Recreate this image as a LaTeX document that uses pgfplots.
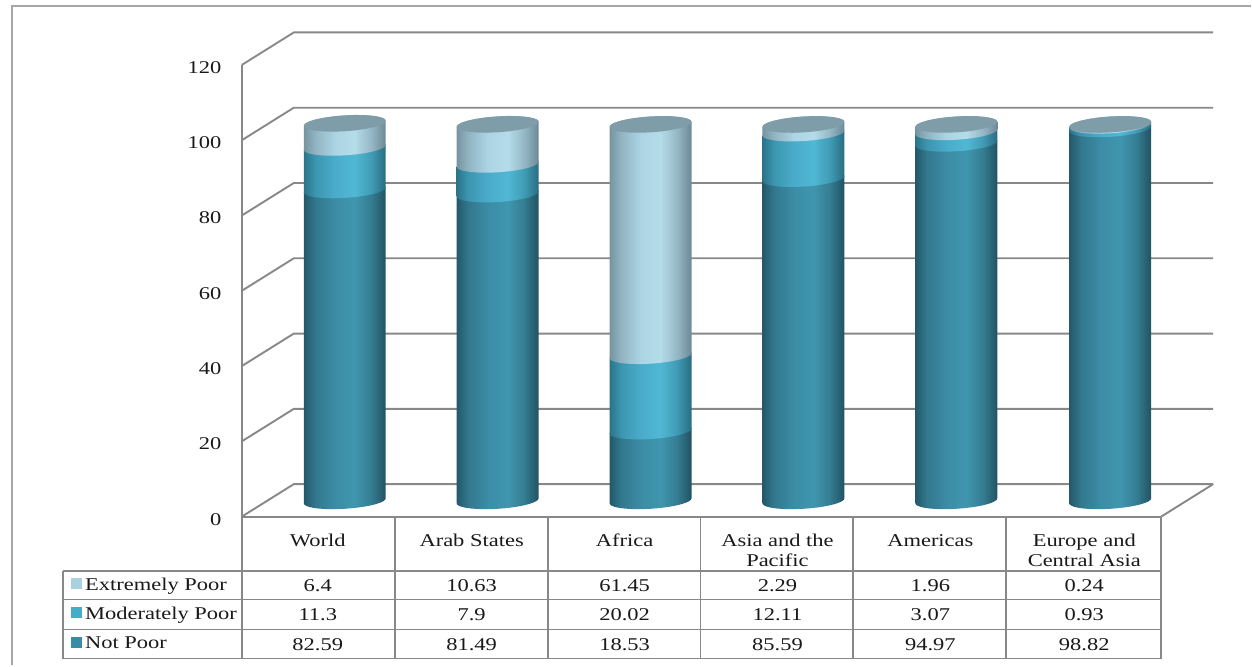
\documentclass[border=0pt]{standalone}
\usepackage{fontspec}
\setmainfont{Liberation Serif}[FakeStretch=1.25]
\usepackage{pgfplots}
\usepackage{pgfplotstable}
\pgfplotsset{compat=1.18}

% Shares per region: one row per cylinder, xc is the cylinder's centre
\pgfplotstableread{
xc   cellx notpoor moderate extreme
345  318   82.59   11.3     6.4
498  472   81.49   7.9      10.63
651  625   18.53   20.02    61.45
804  778   85.59   12.11    2.29
957  931   94.97   3.07     1.96
1111 1085  98.82   0.93     0.24
}\povertytable

\definecolor{gridgray}{HTML}{888888}
\definecolor{capgray}{HTML}{7F9CA9}
\definecolor{swextreme}{HTML}{A9D1E0}
\definecolor{swmoderate}{HTML}{46ADC9}
\definecolor{swnotpoor}{HTML}{3A8CA6}

% Wall tones from rim to rim, for each of the three bands
\definecolor{npA}{RGB}{36,88,106}
\definecolor{npB}{RGB}{50,120,142}
\definecolor{npC}{RGB}{60,140,165}
\definecolor{npD}{RGB}{64,150,175}
\definecolor{npE}{RGB}{52,125,146}
\definecolor{npF}{RGB}{34,82,98}
\definecolor{moA}{RGB}{42,116,138}
\definecolor{moB}{RGB}{60,150,176}
\definecolor{moC}{RGB}{74,172,202}
\definecolor{moD}{RGB}{80,184,212}
\definecolor{moE}{RGB}{64,156,182}
\definecolor{moF}{RGB}{40,108,128}
\definecolor{exA}{RGB}{118,148,160}
\definecolor{exB}{RGB}{146,180,194}
\definecolor{exC}{RGB}{172,212,228}
\definecolor{exD}{RGB}{180,220,234}
\definecolor{exE}{RGB}{150,184,198}
\definecolor{exF}{RGB}{108,136,148}

\tikzset{
  tabletext/.style={font=\fontsize{18}{20}\selectfont, text=black!90, inner sep=0pt},
  gridline/.style={gridgray, line width=1.9pt},
  tableline/.style={gridgray, line width=1.9pt},
}

% Cylinder wall shadings, dark at both rims and lightest right of the centre
\pgfdeclarehorizontalshading{wallnotpoor}{100bp}{
  color(0bp)=(npA); color(25bp)=(npA); color(32bp)=(npB); color(44bp)=(npC);
  color(56bp)=(npD); color(66bp)=(npE); color(75bp)=(npF); color(100bp)=(npF)}
\pgfdeclarehorizontalshading{wallmoderate}{100bp}{
  color(0bp)=(moA); color(25bp)=(moA); color(32bp)=(moB); color(44bp)=(moC);
  color(56bp)=(moD); color(66bp)=(moE); color(75bp)=(moF); color(100bp)=(moF)}
\pgfdeclarehorizontalshading{wallextreme}{100bp}{
  color(0bp)=(exA); color(25bp)=(exA); color(32bp)=(exB); color(44bp)=(exC);
  color(56bp)=(exD); color(66bp)=(exE); color(75bp)=(exF); color(100bp)=(exF)}

% Appends the points of a cylinder's elliptical rim at height #2 to \cylpath
\newcommand{\rimpoints}[3]{%
  \foreach \t in {#3}{%
    \pgfmathsetmacro\rimx{#1+41*cos(\t)}%
    \pgfmathsetmacro\rimy{#2+4.2+0.664*cos(\t)+2.12*sin(\t)}%
    \xdef\cylpath{\cylpath (\rimx,\rimy)}%
  }%
}
% One stacked wall segment: centre, lower value, upper value, shading.
% Its outline runs over the back of the upper rim, so the next band overlaps it.
\newcommand{\cylsegment}[4]{%
  \gdef\cylpath{}%
  \rimpoints{#1}{#2}{180,190,...,360}%
  \rimpoints{#1}{#3}{0,10,...,180}%
  \edef\temp{\noexpand\addplot[draw=none,shading=#4] coordinates {\cylpath};}\temp
}
% The flat lid on top of a cylinder
\newcommand{\cylcap}[2]{%
  \gdef\cylpath{}%
  \rimpoints{#1}{#2}{0,15,...,345}%
  \edef\temp{\noexpand\addplot[draw=none,fill=capgray] coordinates {\cylpath} --cycle;}\temp
}

\newcommand{\celltext}[3]{\node[anchor=base,tabletext] at (axis cs:#1,#2) {#3};}

\begin{document}
\begin{tikzpicture}
\begin{axis}[
  scale only axis, width=920pt, height=452pt,
  xmin=242, xmax=1162, ymin=0, ymax=120,
  clip=false,
  axis x line*=bottom, axis y line*=left,
  axis line style={-, gridgray, line width=1.9pt},
  xtick=\empty,
  ytick={0,20,...,120},
  major tick length=0pt,
  ytick style={draw=none},
  /pgf/number format/assume math mode=true,
  yticklabel style={anchor=east, xshift=-17pt, yshift=-2.5pt, font=\fontsize{18}{20}\selectfont, text=black!90},
]
% Outer frame and picture extent
\path (axis cs:0,-39.55) rectangle (axis cs:1252,137.25);
\addplot[gray!70, line width=1.7pt] coordinates {(12,-39.55) (12,135.6) (1252,135.6)};

% Back wall and side wall gridlines
\pgfplotsinvokeforeach{0,20,...,120}{
  \pgfmathsetmacro\backy{#1+8.63}
  \edef\temp{\noexpand\addplot[gridline] coordinates {(242,#1) (294,\backy) (1214,\backy)};}\temp
}
\addplot[gridline] coordinates {(1214,8.63) (1162,0)};

% Data table rules
\addplot[tableline] coordinates {(242,0) (1162,0)};
\addplot[tableline] coordinates {(63,-14.34) (1162,-14.34)};
\addplot[tableline] coordinates {(63,-22.03) (1162,-22.03)};
\addplot[tableline] coordinates {(63,-30) (1162,-30)};
\addplot[tableline] coordinates {(63,-37.7) (1162,-37.7)};
\addplot[tableline] coordinates {(63,-14.34) (63,-37.7)};
\pgfplotsinvokeforeach{242,395,548,701,854,1007,1162}{
  \addplot[tableline] coordinates {(#1,0) (#1,-37.7)};
}

% Stacked cylinders and the values beneath them
\pgfplotsforeachungrouped \r in {0,...,5}{
  \pgfplotstablegetelem{\r}{xc}\of\povertytable \let\xc\pgfplotsretval
  \pgfplotstablegetelem{\r}{cellx}\of\povertytable \let\cellx\pgfplotsretval
  \pgfplotstablegetelem{\r}{notpoor}\of\povertytable \let\vnp\pgfplotsretval
  \pgfplotstablegetelem{\r}{moderate}\of\povertytable \let\vmo\pgfplotsretval
  \pgfplotstablegetelem{\r}{extreme}\of\povertytable \let\vex\pgfplotsretval
  \pgfmathsetmacro\sumb{\vnp+\vmo}
  \pgfmathsetmacro\sumc{\vnp+\vmo+\vex}
  \cylsegment{\xc}{0}{\vnp}{wallnotpoor}
  \cylsegment{\xc}{\vnp}{\sumb}{wallmoderate}
  \cylsegment{\xc}{\sumb}{\sumc}{wallextreme}
  \cylcap{\xc}{\sumc}
  \edef\temp{\noexpand\celltext{\cellx}{-19.9}{\vex}\noexpand\celltext{\cellx}{-27.6}{\vmo}\noexpand\celltext{\cellx}{-35.44}{\vnp}}\temp
}

% Region names in the table header
\celltext{318}{-7.9}{World}
\celltext{472}{-7.9}{Arab States}
\celltext{625}{-7.9}{Africa}
\celltext{778}{-7.9}{Asia and the}
\celltext{778}{-13.14}{Pacific}
\celltext{931}{-7.9}{Americas}
\celltext{1085}{-7.9}{Europe and}
\celltext{1085}{-13.14}{Central Asia}

% Legend keys and row names
\addplot[draw=none, fill=swextreme] coordinates {(71,-16.2) (82,-16.2) (82,-19.1) (71,-19.1)} --cycle;
\addplot[draw=none, fill=swmoderate] coordinates {(71,-24.1) (82,-24.1) (82,-27) (71,-27)} --cycle;
\addplot[draw=none, fill=swnotpoor] coordinates {(71,-32) (82,-32) (82,-34.9) (71,-34.9)} --cycle;
\node[anchor=base west,tabletext] at (axis cs:85,-19.5) {Extremely Poor};
\node[anchor=base west,tabletext] at (axis cs:85,-27.4) {Moderately Poor};
\node[anchor=base west,tabletext] at (axis cs:85,-35.04) {Not Poor};
\end{axis}
\end{tikzpicture}
\end{document}
